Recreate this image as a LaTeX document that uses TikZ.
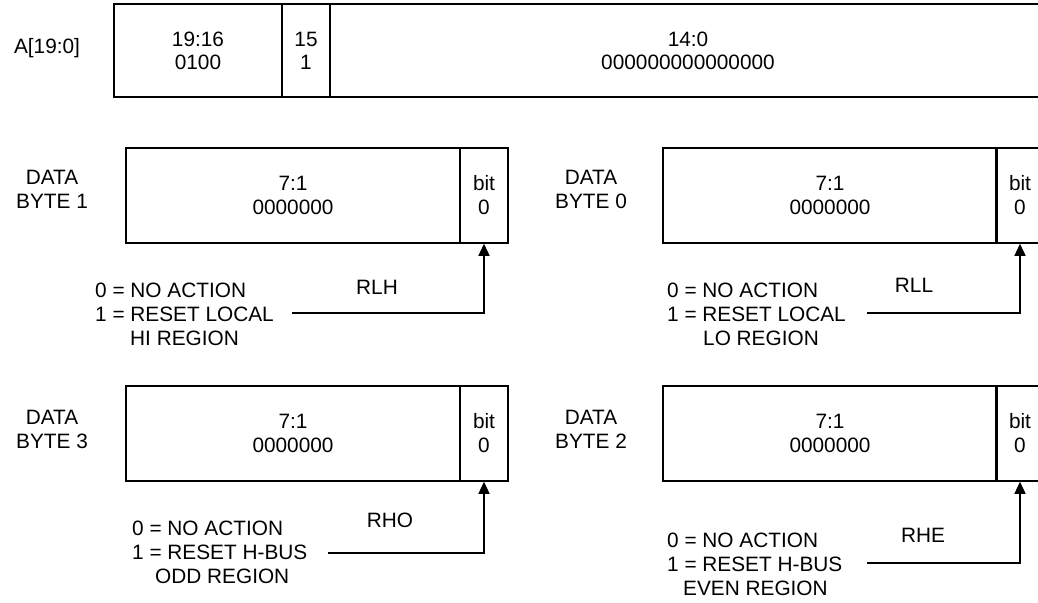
\documentclass[tikz,border=0pt]{standalone}
\usepackage{fontspec}
\setmainfont{Liberation Sans}
\usetikzlibrary{arrows.meta}
\begin{document}
\begin{tikzpicture}[x=1pt,y=-1pt,
  txt/.style={font=\fontsize{20.8}{24}\selectfont, inner sep=0pt},
  field/.style={draw, line width=1.5pt, inner sep=0pt, align=center, font=\fontsize{20.8}{24}\selectfont},
  bytefield/.style={field, minimum height=95pt},
  addrfield/.style={field, line width=2pt, minimum height=93pt, font=\fontsize{20.8}{23}\selectfont},
  note/.style={txt, align=left, anchor=north west},
  conn/.style={line width=1.3pt, -{Triangle[length=12pt,width=11pt]}},
]
\useasboundingbox (0,0) rectangle (1038,602);
\fill[white] (0,0) rectangle (1038,602);
\clip (0,0) rectangle (1038,602);

% address
\node[txt] (alabel) at (47,48) {A[19:0]};
\node[addrfield, minimum width=168pt] (a1916) at (198,50.5) {19:16\\0100};
\node[addrfield, minimum width=48pt] (a15) at (306,50.5) {15\\1};
\node[addrfield, minimum width=716pt] (a140) at (688,50.5) {14:0\\000000000000000};

% data byte 1
\node[txt, align=center] (dl1) at (52,189) {DATA\\BYTE 1};
\node[bytefield, minimum width=334pt] (m1) at (293,195.5) {7:1\\0000000};
\node[bytefield, minimum width=48pt] (b1) at (484,195.5) {bit\\0};
\node[note] (n1) at (95,282.5) {0 = NO ACTION\\1 = RESET LOCAL\\\hspace*{35pt}HI REGION};
\node[txt] (s1) at (377,287) {RLH};
\coordinate (c1) at (292,313);
\draw[conn] (c1) -| (b1.south);

% data byte 0
\node[txt, align=center] (dl0) at (591,189) {DATA\\BYTE 0};
\node[bytefield, minimum width=334pt] (m0) at (830,195.5) {7:1\\0000000};
\node[bytefield, minimum width=48pt] (b0) at (1020,195.5) {bit\\0};
\node[note] (n0) at (667,282.5) {0 = NO ACTION\\1 = RESET LOCAL\\\hspace*{36pt}LO REGION};
\node[txt] (s0) at (914,285) {RLL};
\coordinate (c0) at (867,313);
\draw[conn] (c0) -| (b0.south);

% data byte 3
\node[txt, align=center] (dl3) at (52,429) {DATA\\BYTE 3};
\node[bytefield, minimum width=334pt] (m3) at (293,433.5) {7:1\\0000000};
\node[bytefield, minimum width=48pt] (b3) at (484,433.5) {bit\\0};
\node[note] (n3) at (132,520.5) {0 = NO ACTION\\1 = RESET H-BUS\\\hspace*{23pt}ODD REGION};
\node[txt] (s3) at (390,520) {RHO};
\coordinate (c3) at (328,553);
\draw[conn] (c3) -| (b3.south);

% data byte 2
\node[txt, align=center] (dl2) at (591,429) {DATA\\BYTE 2};
\node[bytefield, minimum width=334pt] (m2) at (830,433.5) {7:1\\0000000};
\node[bytefield, minimum width=48pt] (b2) at (1020,433.5) {bit\\0};
\node[note] (n2) at (667,532.5) {0 = NO ACTION\\1 = RESET H-BUS\\\hspace*{16pt}EVEN REGION};
\node[txt] (s2) at (923,535) {RHE};
\coordinate (c2) at (867,563);
\draw[conn] (c2) -| (b2.south);
\end{tikzpicture}
\end{document}
